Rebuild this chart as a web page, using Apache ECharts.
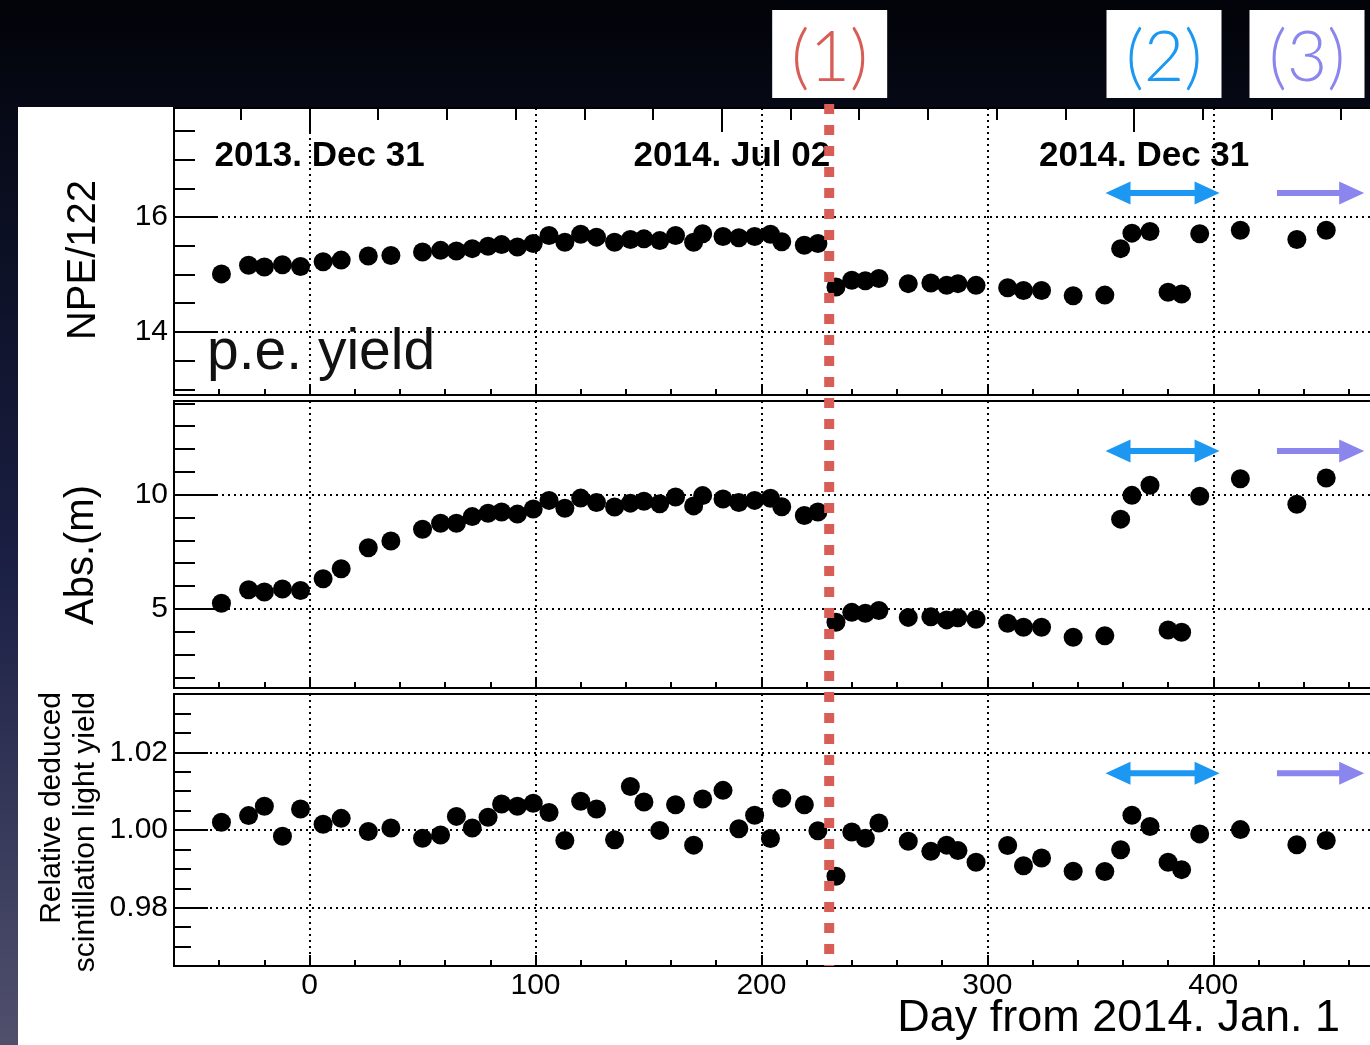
<!DOCTYPE html>
<html>
<head>
<meta charset="utf-8">
<title>p.e. yield, attenuation length and light yield vs. day</title>
<script src="https://cdn.jsdelivr.net/npm/echarts@6/dist/echarts.min.js"></script>
<style>
  html, body { margin: 0; padding: 0; background: #05060c; }
  #chart { width: 1370px; height: 1045px; }
</style>
</head>
<body>
<div id="chart"></div>
<script>
// ---- measurements (day counted from 2014 Jan 1) ----
const days = [
  -39, -27, -20, -12, -4, 6, 14, 26, 36, 50, 58, 65, 72, 79, 85, 92, 99,
  106, 113, 120, 127, 135, 142, 148, 155, 162, 170, 174, 183, 190, 197, 204, 209,
  219, 225, 233, 240, 246, 252, 265, 275, 282, 287, 295, 309, 316, 324, 338, 352,
  359, 364, 372, 380, 386, 394, 412, 437, 450
];
// NPE/122
const npeYield = [
  15.01, 15.16, 15.13, 15.17, 15.14, 15.22, 15.25, 15.32, 15.33, 15.39, 15.42, 15.41, 15.45, 15.49, 15.52, 15.48, 15.54,
  15.68, 15.56, 15.70, 15.65, 15.56, 15.61, 15.62, 15.59, 15.68, 15.56, 15.71, 15.66, 15.64, 15.66, 15.70, 15.57,
  15.51, 15.54, 14.78, 14.90, 14.89, 14.93, 14.84, 14.85, 14.81, 14.84, 14.81, 14.77, 14.72, 14.72, 14.63, 14.64,
  15.45, 15.72, 15.75, 14.69, 14.66, 15.71, 15.77, 15.61, 15.77
];
// attenuation length (m)
const absLength = [
  5.25, 5.84, 5.74, 5.87, 5.81, 6.32, 6.76, 7.68, 7.97, 8.49, 8.75, 8.75, 9.04, 9.19, 9.24, 9.15, 9.37,
  9.75, 9.41, 9.85, 9.66, 9.46, 9.63, 9.71, 9.60, 9.90, 9.51, 9.96, 9.81, 9.66, 9.75, 9.84, 9.47,
  9.09, 9.24, 4.42, 4.85, 4.81, 4.93, 4.63, 4.66, 4.52, 4.61, 4.55, 4.37, 4.20, 4.20, 3.76, 3.83,
  8.93, 9.97, 10.41, 4.08, 3.98, 9.93, 10.70, 9.58, 10.73
];
// relative deduced scintillation light yield
const relLightYield = [
  1.0020, 1.0037, 1.0061, 0.9984, 1.0054, 1.0015, 1.0030, 0.9996, 1.0005, 0.9979, 0.9987, 1.0035, 1.0005, 1.0033, 1.0067, 1.0061, 1.0069,
  1.0045, 0.9973, 1.0074, 1.0054, 0.9975, 1.0112, 1.0072, 0.9999, 1.0065, 0.9961, 1.0080, 1.0102, 1.0003, 1.0038, 0.9978, 1.0082,
  1.0065, 0.9998, 0.9881, 0.9995, 0.9979, 1.0018, 0.9971, 0.9945, 0.9961, 0.9947, 0.9917, 0.9960, 0.9908, 0.9928, 0.9894, 0.9893,
  0.9949, 1.0038, 1.0009, 0.9917, 0.9898, 0.9990, 1.0001, 0.9962, 0.9973
];

// ---- axis ticks and labels ----
const dayRange = [-60, 480];
const dayMinorTicks = [-40, -20, 0, 20, 40, 60, 80, 100, 120, 140, 160, 180, 200, 220, 240, 260, 280, 300, 320, 340, 360, 380, 400, 420, 440, 460];
const dayMajorTicks = [0, 100, 200, 300, 400];
const dayTickLabels = ['0', '100', '200', '300', '400'];
const monthTicks = [-30.4, 0, 30.4, 60.8, 91.3, 121.7, 152.1, 182.5, 212.9, 243.3, 273.8, 304.2, 334.6, 365, 395.4, 425.8, 456.3];
const dateTicks = [0, 182.5, 365];
const dateTickLabels = ['2013. Dec 31', '2014. Jul 02', '2014. Dec 31'];

const npeRange = [12.9, 17.9];
const npeMinorTicks = [13, 13.5, 14, 14.5, 15, 15.5, 16, 16.5, 17, 17.5];
const npeMajorTicks = [14, 16];
const npeTickLabels = ['14', '16'];

const absRange = [1.54, 14.1];
const absMinorTicks = [2, 3, 4, 5, 6, 7, 8, 9, 10, 11, 12, 13, 14];
const absMajorTicks = [5, 10];
const absTickLabels = ['5', '10'];

const relRange = [0.965, 1.035];
const relMinorTicks = [0.97, 0.975, 0.98, 0.985, 0.99, 0.995, 1.0, 1.005, 1.01, 1.015, 1.02, 1.025, 1.03];
const relMajorTicks = [0.98, 1.0, 1.02];
const relTickLabels = ['0.98', '1.00', '1.02'];

// ---- annotations ----
const changeDay = 230;                       // (1)
const periodTwoSpan = [352.3, 402.8];        // (2)
const periodThreeSpan = [428.2, 466.8];      // (3)
const arrowLevels = [16.42, 11.91, 1.0146];  // arrow heights in each panel

const FONT = '"Liberation Sans", Arial, Helvetica, sans-serif';
const BLACK = '#000';
const RED = '#d75d56';
const BLUE = '#1c97f2';
const PURPLE = '#8b85ee';

const tickStyle = { color: BLACK, width: 2 };
const gridDots = { color: BLACK, width: 2, type: [2, 4] };

function labelFor(values, labels) {
  return v => {
    const i = values.findIndex(t => Math.abs(t - v) < 1e-6);
    return i >= 0 ? labels[i] : '';
  };
}

function dayAxis(gridIndex, position, ticks, len, opts) {
  opts = opts || {};
  return {
    type: 'value', gridIndex, position,
    min: dayRange[0], max: dayRange[1],
    axisLine: { show: false, onZero: false },
    axisTick: { show: true, inside: true, length: len, customValues: ticks, lineStyle: tickStyle },
    axisLabel: opts.axisLabel || { show: false },
    splitLine: opts.splitLine ? { show: true, lineStyle: gridDots } : { show: false }
  };
}

function valueAxis(gridIndex, range, ticks, len, labels) {
  const major = !!labels;
  return {
    type: 'value', gridIndex, position: 'left',
    min: range[0], max: range[1],
    axisLine: { show: false, onZero: false },
    axisTick: { show: true, inside: true, length: len, customValues: ticks, lineStyle: tickStyle },
    axisLabel: major ? {
      show: true, customValues: ticks, formatter: labelFor(ticks, labels),
      color: BLACK, fontSize: 30, fontFamily: FONT, margin: 6
    } : { show: false },
    splitLine: major ? { show: true, lineStyle: gridDots } : { show: false }
  };
}

const gridBase = {
  left: 174, width: 1220, show: true, borderColor: BLACK, borderWidth: 2,
  backgroundColor: 'transparent', containLabel: false, outerBoundsMode: 'none'
};

const option = {
  animation: false,
  backgroundColor: {
    type: 'linear', x: 0, y: 0, x2: 0, y2: 1,
    colorStops: [
      { offset: 0, color: '#020308' },
      { offset: 0.12, color: '#070a18' },
      { offset: 0.55, color: '#1b2045' },
      { offset: 1, color: '#50506d' }
    ]
  },
  grid: [
    Object.assign({ top: 108, height: 287 }, gridBase),
    Object.assign({ top: 401, height: 287 }, gridBase),
    Object.assign({ top: 694, height: 272 }, gridBase)
  ],
  xAxis: [
    dayAxis(0, 'bottom', dayMinorTicks, 6),
    dayAxis(0, 'bottom', dayMajorTicks, 11, { splitLine: true }),
    dayAxis(0, 'top', monthTicks, 12),
    dayAxis(0, 'top', dateTicks, 24, {
      axisLabel: {
        show: true, inside: true, customValues: dateTicks,
        formatter: labelFor(dateTicks, dateTickLabels),
        color: BLACK, fontSize: 35, fontWeight: 'bold', fontFamily: FONT,
        margin: 31, padding: [0, 0, 0, 20]
      }
    }),
    dayAxis(1, 'bottom', dayMinorTicks, 6),
    dayAxis(1, 'bottom', dayMajorTicks, 11, { splitLine: true }),
    dayAxis(2, 'bottom', dayMinorTicks, 6),
    dayAxis(2, 'bottom', dayMajorTicks, 11, {
      splitLine: true,
      axisLabel: {
        show: true, customValues: dayMajorTicks, formatter: labelFor(dayMajorTicks, dayTickLabels),
        color: BLACK, fontSize: 30, fontFamily: FONT, margin: 5
      }
    })
  ],
  yAxis: [
    valueAxis(0, npeRange, npeMinorTicks, 21),
    valueAxis(0, npeRange, npeMajorTicks, 42, npeTickLabels),
    valueAxis(1, absRange, absMinorTicks, 21),
    valueAxis(1, absRange, absMajorTicks, 42, absTickLabels),
    valueAxis(2, relRange, relMinorTicks, 17),
    valueAxis(2, relRange, relMajorTicks, 34, relTickLabels)
  ],
  series: [
    { name: 'NPE/122', values: npeYield, x: 0, y: 0 },
    { name: 'Abs.(m)', values: absLength, x: 4, y: 2 },
    { name: 'Relative light yield', values: relLightYield, x: 6, y: 4 }
  ].map(s => ({
    type: 'scatter', name: s.name, xAxisIndex: s.x, yAxisIndex: s.y,
    symbol: 'circle', symbolSize: 19,
    itemStyle: { color: BLACK, opacity: 1 },
    data: days.map((d, i) => [d, s.values[i]])
  }))
};

const chart = echarts.init(document.getElementById('chart'), null, { renderer: 'canvas' });
chart.setOption(option);

// arrow polygon between x1 and x2 at height y
function arrowShape(x1, x2, y, doubleHead) {
  const hw = 3, hl = 25, hh = 11.5;
  const pts = [[x2, y], [x2 - hl, y - hh], [x2 - hl, y - hw]];
  if (doubleHead) {
    pts.push([x1 + hl, y - hw], [x1 + hl, y - hh], [x1, y], [x1 + hl, y + hh], [x1 + hl, y + hw]);
  } else {
    pts.push([x1, y - hw], [x1, y + hw]);
  }
  pts.push([x2 - hl, y + hw], [x2 - hl, y + hh]);
  return pts;
}

function textEl(text, x, y, style, rotation) {
  return {
    type: 'text', x, y, rotation: rotation || 0, z: 100, silent: true,
    style: Object.assign({ text, fill: BLACK, fontFamily: FONT }, style)
  };
}

function tagBox(label, cx, color) {
  return [
    { type: 'rect', z: 90, silent: true, shape: { x: cx - 57.5, y: 10, width: 115, height: 88 }, style: { fill: '#fff' } },
    textEl(label, cx, 58, { fill: color, fontSize: 70, fontWeight: 300, fontFamily: 'Lato, "Open Sans", "Noto Sans", sans-serif', align: 'center', verticalAlign: 'middle' })
  ];
}

const graphics = [
  { type: 'rect', z: -10, silent: true, shape: { x: 18, y: 107, width: 1352, height: 938 }, style: { fill: '#fff' } }
];

const lineX = chart.convertToPixel({ seriesIndex: 0 }, [changeDay, npeRange[0]])[0];
const bottomY = chart.convertToPixel({ seriesIndex: 2 }, [changeDay, relRange[0]])[1];
graphics.push({
  type: 'line', z: 100, silent: true,
  shape: { x1: lineX, y1: 104, x2: lineX, y2: bottomY },
  style: { stroke: RED, lineWidth: 10, lineDash: [10, 11] }
});

arrowLevels.forEach((level, p) => {
  const a = chart.convertToPixel({ seriesIndex: p }, [periodTwoSpan[0], level]);
  const b = chart.convertToPixel({ seriesIndex: p }, [periodTwoSpan[1], level]);
  graphics.push({ type: 'polygon', z: 100, silent: true, shape: { points: arrowShape(a[0], b[0], a[1], true) }, style: { fill: BLUE } });
  const c = chart.convertToPixel({ seriesIndex: p }, [periodThreeSpan[0], level]);
  const d = chart.convertToPixel({ seriesIndex: p }, [periodThreeSpan[1], level]);
  graphics.push({ type: 'polygon', z: 100, silent: true, shape: { points: arrowShape(c[0], d[0], c[1], false) }, style: { fill: PURPLE } });
});

graphics.push(...tagBox('(1)', lineX + 0.5, RED));
graphics.push(...tagBox('(2)', 1164, BLUE));
graphics.push(...tagBox('(3)', 1307, PURPLE));

graphics.push(textEl('p.e. yield', 207, 353, { fontSize: 57, fill: '#111', align: 'left', verticalAlign: 'middle' }));
graphics.push(textEl('NPE/122', 84, 260, { fontSize: 40, align: 'center', verticalAlign: 'middle' }, Math.PI / 2));
graphics.push(textEl('Abs.(m)', 82, 555, { fontSize: 40, align: 'center', verticalAlign: 'middle' }, Math.PI / 2));
graphics.push(textEl('Relative deduced\nscintillation light yield', 69, 692,
  { fontSize: 30, lineHeight: 34, align: 'right', verticalAlign: 'middle' }, Math.PI / 2));
graphics.push(textEl('Day from 2014. Jan. 1', 1340, 1019, { fontSize: 45, align: 'right', verticalAlign: 'middle' }));

chart.setOption({ graphic: graphics });
</script>
</body>
</html>
